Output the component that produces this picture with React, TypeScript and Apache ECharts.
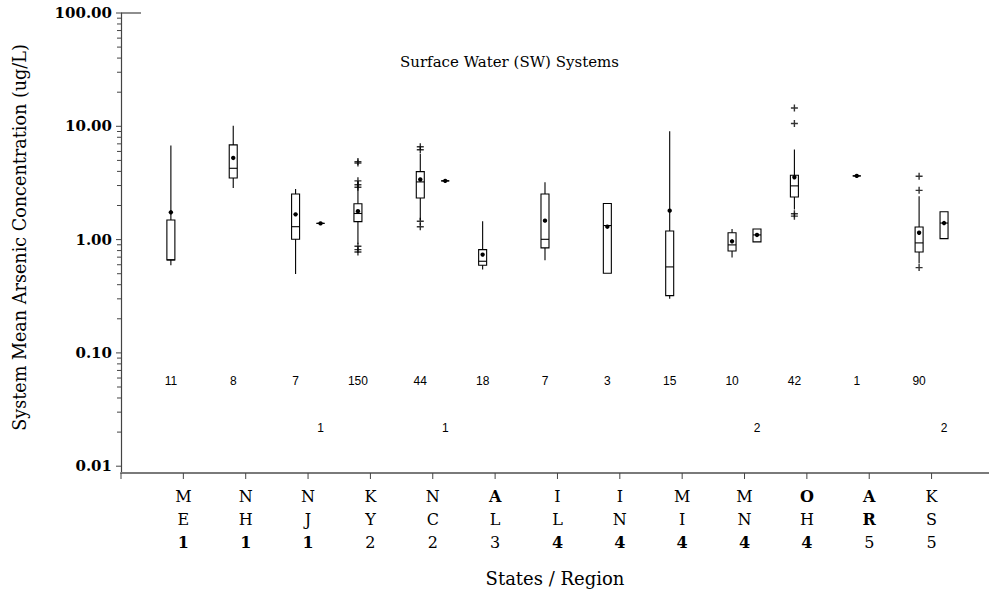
import React, { useEffect, useRef } from 'react';
import * as echarts from 'echarts';

// ---------- data ----------
const STATES = ['ME', 'NH', 'NJ', 'KY', 'NC', 'AL', 'IL', 'IN', 'MI', 'MN', 'OH', 'AR', 'KS'];
const REGIONS = ['1', '1', '1', '2', '2', '3', '4', '4', '4', '4', '4', '5', '5'];

// first system group (left box at each state)
const A_MIN = [0.593, 2.86, 0.498, 0.92, 1.48, 0.544, 0.657, 0.504, 0.301, 0.694, 1.84, 3.65, 0.614];
const A_Q1 = [0.662, 3.5, 1.006, 1.44, 2.33, 0.593, 0.845, 0.504, 0.32, 0.794, 2.38, 3.65, 0.778];
const A_MEDIAN = [0.662, 4.26, 1.3, 1.7, 3.23, 0.644, 1.006, 1.33, 0.574, 0.898, 2.98, 3.65, 0.935];
const A_Q3 = [1.49, 6.85, 2.53, 2.07, 3.98, 0.816, 2.53, 2.08, 1.19, 1.15, 3.7, 3.65, 1.29];
const A_MAX = [6.76, 10.1, 2.8, 3.3, 5.71, 1.45, 3.2, 2.08, 9.03, 1.24, 6.23, 3.65, 2.41];
const A_MEAN = [1.74, 5.26, 1.67, 1.78, 3.39, 0.737, 1.47, 1.3, 1.8, 0.966, 3.55, 3.65, 1.15];
const A_COUNT = [11, 8, 7, 150, 44, 18, 7, 3, 15, 10, 42, 1, 90];
const A_OUTLIER_STATE = ['KY', 'KY', 'KY', 'KY', 'KY', 'KY', 'KY', 'KY', 'NC', 'NC', 'NC', 'NC', 'OH', 'OH', 'OH', 'OH', 'KS', 'KS', 'KS'];
const A_OUTLIER_VALUE = [4.88, 4.75, 3.3, 3.05, 2.9, 0.873, 0.816, 0.778, 6.6, 6.2, 1.45, 1.3, 14.5, 10.6, 1.69, 1.61, 3.62, 2.72, 0.566];

// second system group (right box at a few states)
const B_STATE = ['NJ', 'NC', 'MN', 'KS'];
const B_MIN = [1.39, 3.3, 0.954, 1.02];
const B_Q1 = [1.39, 3.3, 0.954, 1.02];
const B_MEDIAN = [1.39, 3.3, 1.1, 1.4];
const B_Q3 = [1.39, 3.3, 1.24, 1.76];
const B_MAX = [1.39, 3.3, 1.24, 1.76];
const B_MEAN = [1.39, 3.3, 1.1, 1.4];
const B_COUNT = [1, 1, 2, 2];

const Y_TICK_LABELS = ['0.01', '0.10', '1.00', '10.00', '100.00'];

// ---------- layout / style constants ----------
const SUB_OFFSET = 0.2;
const X_MIN = 0;
const X_MAX = 13.921;
const Y_MIN = -2.06;
const Y_MAX = 2;
const COUNT_ROW_A = Math.log10(0.057);
const COUNT_ROW_B = Math.log10(0.0219);
const BOLD_GLYPHS = ['A', 'O', 'R', '1', '4'];
const SERIF = 'DejaVu Serif';
const AXIS_Y_COLOR = '#444';
const AXIS_X_COLOR = '#7a7a7a';

const lg = (v: number) => Math.log10(v);

function buildBoxes() {
  const rows: number[][] = [];
  STATES.forEach((s, i) => {
    rows.push([i + 1 - SUB_OFFSET, lg(A_MIN[i]), lg(A_Q1[i]), lg(A_MEDIAN[i]), lg(A_Q3[i]), lg(A_MAX[i]), lg(A_MEAN[i]), A_COUNT[i], COUNT_ROW_A]);
  });
  B_STATE.forEach((s, j) => {
    const i = STATES.indexOf(s);
    rows.push([i + 1 + SUB_OFFSET, lg(B_MIN[j]), lg(B_Q1[j]), lg(B_MEDIAN[j]), lg(B_Q3[j]), lg(B_MAX[j]), lg(B_MEAN[j]), B_COUNT[j], COUNT_ROW_B]);
  });
  return rows;
}

function buildOutliers() {
  return A_OUTLIER_STATE.map((s, k) => [STATES.indexOf(s) + 1 - SUB_OFFSET, lg(A_OUTLIER_VALUE[k])]);
}

function buildTicks() {
  const t: number[][] = [];
  for (let k = -2; k <= 1; k++) {
    for (let m = 1; m <= 9; m++) t.push([0, lg(m * Math.pow(10, k)), m === 1 ? 1 : 0]);
  }
  t.push([0, 2, 1]);
  STATES.forEach((_, i) => t.push([1, i + 1, 1]));
  t.push([1, 0, 1]);
  t.push([2, 2, 1]);
  return t;
}

const PLUS = 'path://M4,0h2v4h4v2h-4v4h-2v-4h-4v-2h4z';

export default function App() {
  const ref = useRef<HTMLDivElement>(null);
  useEffect(() => {
    if (!ref.current) return;
    const chart = echarts.init(ref.current, null, { renderer: 'svg' });
    const boxes = buildBoxes();
    const option: any = {
      animation: false,
      backgroundColor: '#fff',
      title: {
        text: 'Surface Water (SW) Systems',
        left: 400,
        top: 54,
        padding: 0,
        textStyle: { fontFamily: SERIF, fontSize: 15, fontWeight: 'normal', color: '#000' },
      },
      grid: { left: 121, right: 0, top: 13, bottom: 121, containLabel: false },
      xAxis: {
        type: 'value',
        min: X_MIN,
        max: X_MAX,
        interval: 1,
        splitLine: { show: false },
        axisTick: { show: false },
        axisLine: { onZero: false, lineStyle: { color: AXIS_X_COLOR, width: 2 } },
        axisLabel: {
          margin: 12,
          showMinLabel: false,
          showMaxLabel: false,
          formatter: (v: number) => {
            const i = Math.round(v);
            if (Math.abs(v - i) > 1e-6 || i < 1 || i > STATES.length) return '';
            const chars = [STATES[i - 1][0], STATES[i - 1][1], REGIONS[i - 1]];
            return chars.map((c) => (BOLD_GLYPHS.includes(c) ? `{b|${c}}` : `{n|${c}}`)).join('\n');
          },
          rich: {
            n: { fontFamily: SERIF, fontSize: 16, lineHeight: 23, color: '#000' },
            b: { fontFamily: SERIF, fontSize: 16, lineHeight: 23, color: '#000', fontWeight: 'bold' },
          },
        },
        name: 'States / Region',
        nameLocation: 'middle',
        nameGap: 96,
        nameTextStyle: { fontFamily: SERIF, fontSize: 18, color: '#000' },
      },
      yAxis: {
        type: 'value',
        min: Y_MIN,
        max: Y_MAX,
        splitLine: { show: false },
        axisTick: { show: false },
        axisLine: { onZero: false, lineStyle: { color: AXIS_Y_COLOR, width: 1.2 } },
        axisLabel: {
          margin: 9,
          fontFamily: SERIF,
          fontSize: 15,
          fontWeight: 'bold',
          color: '#000',
          formatter: (v: number) => {
            const i = Math.round(v);
            if (Math.abs(v - i) > 1e-6) return '';
            return Y_TICK_LABELS[i + 2] ?? '';
          },
        },
        name: 'System Mean Arsenic Concentration (ug/L)',
        nameLocation: 'middle',
        nameRotate: 90,
        nameGap: 92,
        nameTextStyle: { fontFamily: SERIF, fontSize: 17.6, color: '#000', padding: [0, 0, 0, 11] },
      },
      series: [
        {
          type: 'custom',
          name: 'ticks',
          clip: false,
          silent: true,
          data: buildTicks(),
          encode: { x: 1, y: 1 },
          renderItem: (params: any, api: any) => {
            const kind = api.value(0);
            const v = api.value(1);
            if (kind === 0) {
              const p = api.coord([X_MIN, v]);
              const len = api.value(2) ? 5 : 4;
              return { type: 'line', shape: { x1: p[0] - len, y1: p[1], x2: p[0], y2: p[1] }, style: { stroke: AXIS_Y_COLOR, lineWidth: 1 } };
            }
            if (kind === 1) {
              const p = api.coord([v, Y_MIN]);
              return { type: 'line', shape: { x1: p[0], y1: p[1], x2: p[0], y2: p[1] + 6 }, style: { stroke: AXIS_Y_COLOR, lineWidth: 1 } };
            }
            const p = api.coord([X_MIN, v]);
            return { type: 'line', shape: { x1: p[0], y1: p[1], x2: p[0] + 20, y2: p[1] }, style: { stroke: AXIS_Y_COLOR, lineWidth: 1.2 } };
          },
        },
        {
          type: 'custom',
          name: 'boxes',
          clip: false,
          data: boxes,
          encode: { x: 0, y: [1, 2, 3, 4, 5] },
          renderItem: (params: any, api: any) => {
            const x = api.value(0);
            const c = (v: number) => api.coord([x, v]);
            const pMin = c(api.value(1));
            const pQ1 = c(api.value(2));
            const pMed = c(api.value(3));
            const pQ3 = c(api.value(4));
            const pMax = c(api.value(5));
            const pMean = c(api.value(6));
            const pCount = c(api.value(8));
            const cx = pMin[0];
            const hw = 4;
            const st = { stroke: '#000', lineWidth: 1.1, fill: 'none' };
            const children: any[] = [];
            if (pQ3[1] - pMax[1] > 0.5) children.push({ type: 'line', shape: { x1: cx, y1: pQ3[1], x2: cx, y2: pMax[1] }, style: st });
            if (pMin[1] - pQ1[1] > 0.5) children.push({ type: 'line', shape: { x1: cx, y1: pQ1[1], x2: cx, y2: pMin[1] }, style: st });
            children.push({
              type: 'polygon',
              shape: { points: [[cx - hw, pQ3[1]], [cx + hw, pQ3[1]], [cx + hw, pQ1[1]], [cx - hw, pQ1[1]]] },
              style: st,
            });
            children.push({ type: 'line', shape: { x1: cx - hw, y1: pMed[1], x2: cx + hw, y2: pMed[1] }, style: st });
            children.push({ type: 'circle', shape: { cx, cy: pMean[1], r: 2.2 }, style: { fill: '#000' } });
            children.push({
              type: 'text',
              x: cx,
              y: pCount[1],
              style: {
                text: String(api.value(7)),
                fontFamily: 'Liberation Sans Narrow, Liberation Sans, sans-serif',
                fontSize: 12,
                fill: '#000',
                align: 'center',
                verticalAlign: 'middle',
              },
            });
            return { type: 'group', children };
          },
        },
        {
          type: 'scatter',
          name: 'outliers',
          symbol: PLUS,
          symbolSize: 7,
          itemStyle: { color: '#000' },
          data: buildOutliers(),
        },
      ],
    };
    chart.setOption(option);
    return () => chart.dispose();
  }, []);
  return <div ref={ref} style={{ position: 'absolute', left: 0, top: 0, width: 989, height: 594 }} />;
}
